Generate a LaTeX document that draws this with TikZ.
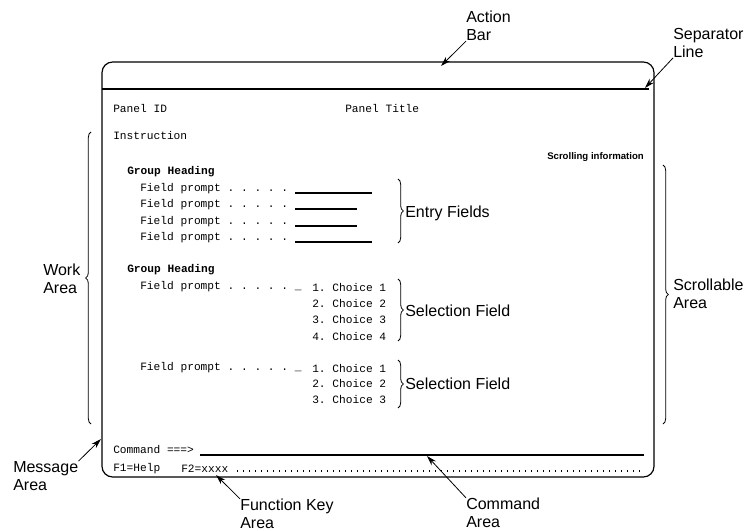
\documentclass[tikz,border=0pt]{standalone}
\usepackage{fontspec}
\setmainfont{Liberation Sans}
\setmonofont{Liberation Mono}
\usetikzlibrary{arrows.meta,decorations.pathreplacing}

\begin{document}
\begin{tikzpicture}[x=0.75pt, y=-0.75pt, >={Stealth[length=7.5pt,width=4.5pt]},
  lbl/.style={font=\fontsize{12}{13.5}\selectfont, align=left, inner sep=0pt},
  scr/.style={font=\ttfamily\fontsize{8.4}{10}\selectfont, anchor=west, inner sep=0pt},
  grp/.style={scr, font=\ttfamily\bfseries\fontsize{8.4}{10}\selectfont},
  brc/.style={decorate, decoration={brace, amplitude=4pt}, semithick},
  pnt/.style={->, semithick}]

\useasboundingbox (0,0) rectangle (754,531);

% panel frame
\draw[line width=0.9pt, rounded corners=8] (102,62) rectangle (654,477);
\draw[line width=0.8pt] (102,89) -- (649,89);

% panel texts
\node[scr] (pid) at (113,108) {Panel ID};
\node[scr] (ptitle) at (345,108) {Panel Title};
\node[scr] (instr) at (113,135) {Instruction};
\node[scr, font=\bfseries\fontsize{7.2}{8}\selectfont] (scrinfo) at (547,157) {Scrolling information};

% entry fields
\node[grp] (grp1) at (127,172) {Group Heading};
\foreach \y/\len [count=\i] in {189/372, 205/357, 222/357, 238/372} {
  \node[scr] (ef\i) at (140,\y) {Field prompt . . . . .};
  \draw[thick] (295,\y+4) -- (\len,\y+4);
}

% selection fields
\node[grp] (grp2) at (127,270) {Group Heading};
\node[scr] (sf1) at (140,287) {Field prompt . . . . . \_};
\foreach \y [count=\i] in {287,303,319,336}
  \node[scr] (cha\i) at (312,\y) {\i. Choice \i};
\node[scr] (sf2) at (140,368) {Field prompt . . . . . \_};
\foreach \y [count=\i] in {368,383,399}
  \node[scr] (chb\i) at (312,\y) {\i. Choice \i};

% command line and keys
\node[scr] (cmd) at (113,450) {Command ===>};
\draw[thick] (200,455) -- (644,455);
\node[scr] (fone) at (113,469) {F1=Help};
\node[scr] (ftwo) at (181,469) {F2=xxxx};
\draw[thick, dash pattern=on 1pt off 3.5pt] (237,471) -- (643,471);

% braces
\draw[brc] (91,424) -- (91,132);
\draw[brc] (663,165) -- (663,424);
\draw[brc] (398,179) -- (398,243);
\draw[brc] (398,279) -- (398,341);
\draw[brc] (398,360) -- (398,408);

\node[lbl, anchor=west] (work) at (43,279) {Work\\Area};
\node[lbl, anchor=west] (scroll) at (673,294) {Scrollable\\Area};
\node[lbl, anchor=west] (entry) at (405,213) {Entry Fields};
\node[lbl, anchor=west] (sela) at (405,311) {Selection Field};
\node[lbl, anchor=west] (selb) at (405,384) {Selection Field};

% callouts
\node[lbl, anchor=west] (action) at (466,26) {Action\\Bar};
\node[lbl, anchor=west] (sepline) at (673,43) {Separator\\Line};
\node[lbl, anchor=west] (msg) at (13,476) {Message\\Area};
\node[lbl, anchor=west] (fkey) at (240,514) {Function Key\\Area};
\node[lbl, anchor=west] (cmdarea) at (466,513) {Command\\Area};

\coordinate (abar) at (441,66);
\coordinate (sepl) at (645,88);
\coordinate (marea) at (101,439);
\coordinate (karea) at (216,475);
\coordinate (carea) at (427,456);

\draw[pnt] (action.south west) -- (abar);
\draw[pnt] (sepline.south west) -- (sepl);
\draw[pnt] (msg.north east) -- (marea);
\draw[pnt] (fkey.north west) -- (karea);
\draw[pnt] (cmdarea.north west) -- (carea);

\end{tikzpicture}
\end{document}
